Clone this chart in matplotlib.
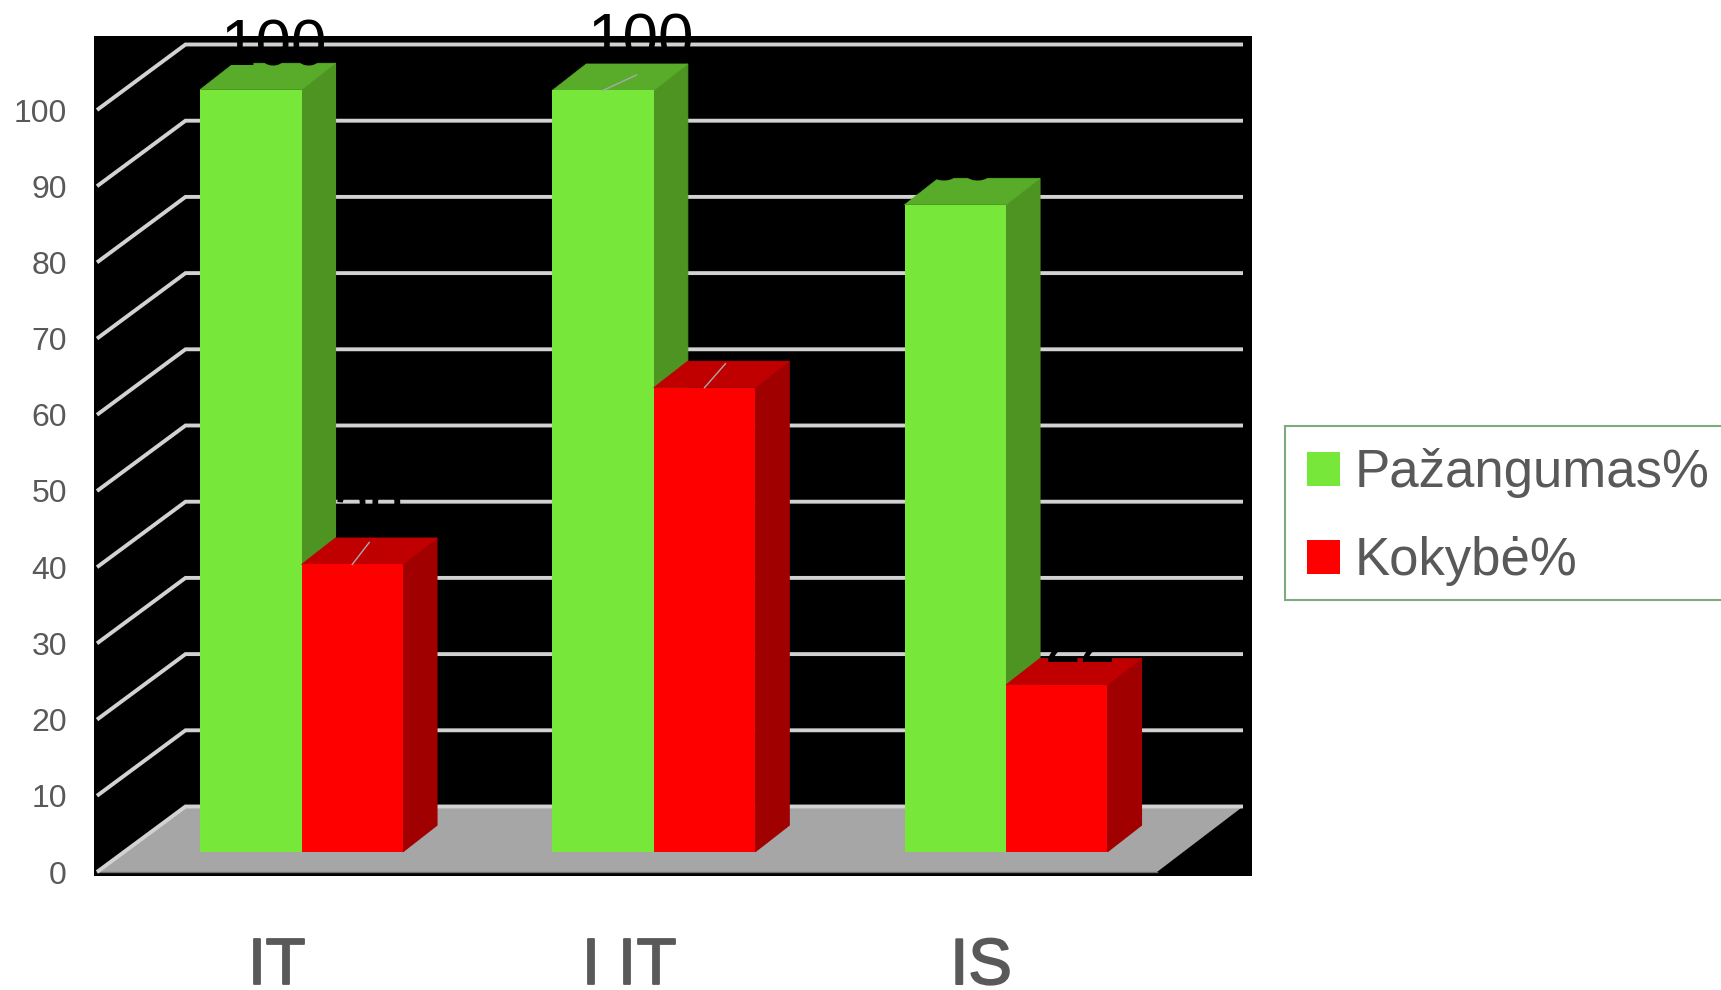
import numpy as np
import matplotlib
matplotlib.use("Agg")
import matplotlib.pyplot as plt
import matplotlib.patheffects as pe
from matplotlib.patches import Rectangle

plt.rcParams['font.family'] = ['Liberation Sans', 'DejaVu Sans']

categories = ["IT", "I IT", "IS"]
pazangumas = [100, 99.9, 84.9]
kokybe = [37.7, 60.9, 21.9]
y_ticks = [0, 10, 20, 30, 40, 50, 60, 70, 80, 90, 100]
series_names = ["Pažangumas%", "Kokybė%"]

W, H = 1721, 990
AX_L, AX_R, AX_T, AX_B = 94, 1252, 36, 876
ZERO_PX = 851.7
CAT0_PX = 301.5
PX_CAT = 352.25
PX_VAL = 7.62

fig = plt.figure(figsize=(W / 100, H / 100), dpi=100, facecolor='white')
ax = fig.add_axes([AX_L / W, 1 - AX_B / H, (AX_R - AX_L) / W, (AX_B - AX_T) / H])
ax.set_facecolor('black')
ax.set_xlim((AX_L - CAT0_PX) / PX_CAT, (AX_R - CAT0_PX) / PX_CAT)
ax.set_ylim((ZERO_PX - AX_B) / PX_VAL, (ZERO_PX - AX_T) / PX_VAL)
for s in ax.spines.values():
    s.set_visible(False)

def dx(p):
    return p / PX_CAT

def dy(p):
    return p / PX_VAL

FRONT_X = (97 - CAT0_PX) / PX_CAT
BACK_X = (185.5 - CAT0_PX) / PX_CAT
RIGHT_X = (1243 - CAT0_PX) / PX_CAT
FRONT_RIGHT_X = (1157 - CAT0_PX) / PX_CAT
FRONT_Y = (ZERO_PX - 872) / PX_VAL
BACK_Y = (ZERO_PX - 806.5) / PX_VAL

GRID = '#D2D2D2'
ax.fill([FRONT_X, BACK_X, RIGHT_X, FRONT_RIGHT_X], [FRONT_Y, BACK_Y, BACK_Y, FRONT_Y],
        color='#A6A6A6', lw=0, zorder=1)
ax.plot([FRONT_RIGHT_X, FRONT_X], [FRONT_Y, FRONT_Y], color='#6E6E6E', lw=1.0, zorder=1.5)
for v in y_ticks:
    ax.plot([FRONT_X, BACK_X, RIGHT_X], [v + FRONT_Y, v + BACK_Y, v + BACK_Y],
            color=GRID, lw=2.8, solid_joinstyle='miter', solid_capstyle='butt', zorder=2)

BAR_W = 101.5 / PX_CAT
D_X, D_Y = dx(34), dy(26.5)
x = np.arange(len(categories))

def box_parts(x0, v, top, side, z):
    x1 = x0 + BAR_W
    ax.fill([x1, x1 + D_X, x1 + D_X, x1], [0, D_Y, v + D_Y, v], facecolor=side, edgecolor=side, lw=0.8, zorder=z)
    ax.fill([x0, x0 + D_X, x1 + D_X, x1], [v, v + D_Y, v + D_Y, v], facecolor=top, edgecolor=top, lw=0.5, zorder=z)

GREEN, RED = '#77E83A', '#FF0000'
for xi, g, r in zip(x, pazangumas, kokybe):
    box_parts(xi - BAR_W, g, '#58AC29', '#4D9423', 3)
    box_parts(xi, r, '#C00000', '#A00000', 4)
ax.bar(x - BAR_W / 2, pazangumas, BAR_W, color=GREEN, lw=0, zorder=3.5, label=series_names[0])
ax.bar(x + BAR_W / 2, kokybe, BAR_W, color=RED, lw=0, zorder=4.5, label=series_names[1])

# Data labels (black, so they only show outside or on lighter marks)
green_off = [(23, 24.5), (37, 31), (5, 24)]
red_off = [(17, 28), None, (24, 23)]
for xi, v, off in zip(x, pazangumas, green_off):
    ax.annotate(f"{v:.0f}", (xi - BAR_W / 2, v), xytext=(off[0], off[1]), textcoords='offset pixels',
                ha='center', va='baseline', fontsize=46, color='black', zorder=6,
                annotation_clip=False)
for xi, v, off in zip(x, kokybe, red_off):
    if off is None:
        continue
    ax.annotate(f"{v:.0f}", (xi + BAR_W / 2, v), xytext=(off[0], off[1]), textcoords='offset pixels',
                ha='center', va='baseline', fontsize=46, color='black', zorder=6,
                annotation_clip=False)

# Leader lines
leaders = [(x[1] - BAR_W / 2, pazangumas[1], 33.5, 15.5),
           (x[0] + BAR_W / 2, kokybe[0], 17, 22),
           (x[1] + BAR_W / 2, kokybe[1], 21, 24)]
for lx, lv, ldx, ldy in leaders:
    ax.plot([lx, lx + dx(ldx)], [lv, lv + dy(ldy)], color='#A9A9A9', lw=1.0, zorder=5.5)

ax.set_yticks([v + FRONT_Y for v in y_ticks], [str(v) for v in y_ticks])
ax.tick_params(axis='y', length=0, pad=19.5, labelsize=23, labelcolor='#595959')
ax.set_xticks(x - 25 / PX_CAT, categories)
ax.tick_params(axis='x', length=0, pad=44, labelsize=47, labelcolor='#595959')
for t in ax.get_xticklabels():
    t.set_path_effects([pe.withStroke(linewidth=1.3, foreground='#595959')])

fig.add_artist(Rectangle((1285 / W, 1 - 600 / H), 460 / W, 174 / H, transform=fig.transFigure,
                         facecolor='white', edgecolor='#7FAA7F', linewidth=1.5, zorder=-1))
leg = ax.legend(loc='upper left', bbox_to_anchor=(1283 / W, 1 - 424.5 / H), bbox_transform=fig.transFigure,
                fontsize=38, labelcolor='#595959', frameon=False, borderaxespad=0, borderpad=0.45,
                handlelength=0.63, handleheight=0.62, handletextpad=0.28, labelspacing=0.72)
leg.set_zorder(10)

fig.savefig('out.png', dpi=100)
